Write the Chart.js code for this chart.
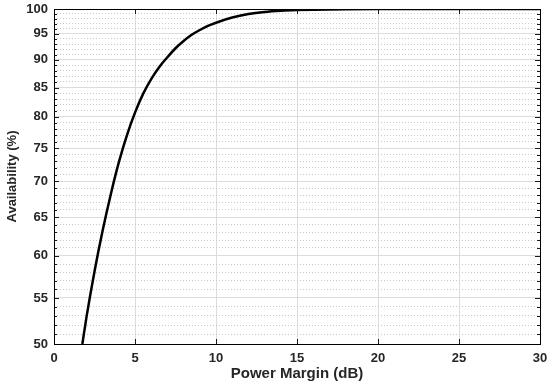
<!DOCTYPE html>
<html>
<head>
<meta charset="utf-8">
<script src="https://cdn.jsdelivr.net/npm/chart.js@4"></script>
<style>
  html, body { margin: 0; background: #fff; }
  #wrap { width: 550px; height: 384px; }
</style>
</head>
<body>
<div id="wrap"><canvas id="c"></canvas></div>
<script>
// values
const marginDb = [1.75, 2, 2.5, 3, 3.5, 4, 4.5, 5, 5.5, 6, 6.5, 7, 7.5, 8, 8.5, 9, 9.5, 10, 11, 12, 13, 14, 15, 16, 18, 20, 25, 30];
const availability = [50, 52.8, 58.1, 63.2, 68.1, 72.8, 77.0, 80.7, 83.9, 86.5, 88.7, 90.5, 92.2, 93.6, 94.8, 95.75, 96.55, 97.2, 98.25, 98.95, 99.38, 99.63, 99.78, 99.87, 99.96, 99.99, 100, 100];
const xTicks = [0, 5, 10, 15, 20, 25, 30];
const yTicks = [50, 55, 60, 65, 70, 75, 80, 85, 90, 95, 100];

// minor ticks every 1 %
const yMinor = [];
for (let v = 50; v <= 100; v++) yMinor.push(v);

const txt = '#262626';
const font = { family: 'Liberation Sans, Arial, sans-serif', size: 13, weight: 'bold' };

const isMajor = v => yTicks.includes(v);

// frame + inward tick marks (matlab style)
const frame = {
  id: 'frame',
  afterDraw(chart) {
    const { ctx, chartArea: a, scales } = chart;
    ctx.save();
    ctx.strokeStyle = '#1a1a1a';
    ctx.lineWidth = 1;
    ctx.beginPath();
    xTicks.forEach(v => {
      const px = Math.round(scales.x.getPixelForValue(v)) + 0.5;
      ctx.moveTo(px, a.bottom); ctx.lineTo(px, a.bottom - 5);
      ctx.moveTo(px, a.top); ctx.lineTo(px, a.top + 5);
    });
    yMinor.forEach(v => {
      const py = Math.round(scales.y.getPixelForValue(v)) + 0.5;
      const len = isMajor(v) ? 5 : 3;
      ctx.moveTo(a.left, py); ctx.lineTo(a.left + len, py);
      ctx.moveTo(a.right, py); ctx.lineTo(a.right - len, py);
    });
    ctx.stroke();
    ctx.strokeStyle = '#000';
    ctx.strokeRect(Math.round(a.left) + 0.5, Math.round(a.top) + 0.5,
                   Math.round(a.right - a.left), Math.round(a.bottom - a.top));
    ctx.restore();
  }
};

new Chart(document.getElementById('c'), {
  type: 'line',
  data: {
    datasets: [{
      data: marginDb.map((x, i) => ({ x: x, y: availability[i] })),
      borderColor: '#000',
      borderWidth: 2.5,
      pointRadius: 0,
      cubicInterpolationMode: 'monotone',
      fill: false
    }]
  },
  options: {
    responsive: true,
    maintainAspectRatio: false,
    animation: false,
    layout: { padding: { left: 0, top: 9, right: 10, bottom: 0 } },
    plugins: { legend: { display: false }, tooltip: { enabled: false } },
    scales: {
      x: {
        type: 'linear',
        min: 0, max: 30,
        afterBuildTicks: s => { s.ticks = xTicks.map(v => ({ value: v })); },
        afterFit: s => { s.height = 40; s.paddingLeft = 0; s.paddingRight = 0; },
        grid: { color: '#dcdcdc', lineWidth: 1, drawTicks: false },
        border: { display: false },
        ticks: { color: txt, font: font, padding: 7, maxRotation: 0 },
        title: { display: true, text: 'Power Margin (dB)', color: txt,
                 font: { family: font.family, size: 15, weight: 'bold' },
                 padding: { top: 0, bottom: 1 } }
      },
      y: {
        type: 'logarithmic',
        min: 50, max: 100,
        afterBuildTicks: s => { s.ticks = yMinor.map(v => ({ value: v, major: isMajor(v) })); },
        afterFit: s => { s.width = 54; s.paddingTop = 0; s.paddingBottom = 0; },
        grid: {
          color: c => (c.tick && !isMajor(c.tick.value)) ? '#c8c8c8' : '#dcdcdc',
          lineWidth: 1,
          drawTicks: false
        },
        border: {
          display: false,
          dash: c => (c.tick && !isMajor(c.tick.value)) ? [1, 2] : []
        },
        ticks: {
          color: txt, font: font, padding: 6, autoSkip: false,
          callback: v => isMajor(v) ? String(v) : ''
        },
        title: { display: true, text: 'Availability (%)', color: txt,
                 font: { family: font.family, size: 13, weight: 'bold' },
                 padding: { top: 5, bottom: 0 } }
      }
    }
  },
  plugins: [frame]
});
</script>
</body>
</html>
